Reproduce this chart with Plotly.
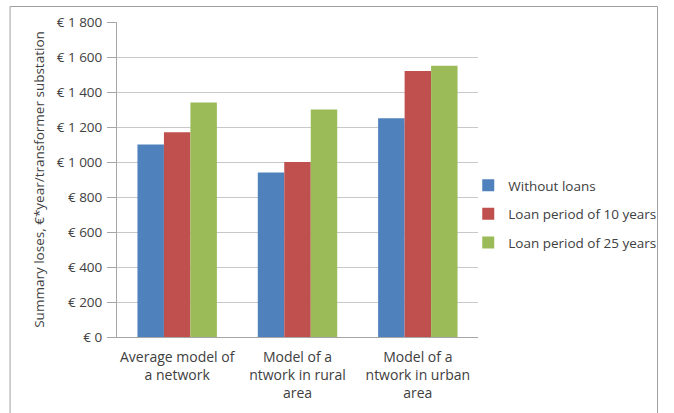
import plotly.graph_objects as go

# Category labels (multi-line) and series values, €/year per transformer substation
categories = [
    "Average model of<br>a network",
    "Model of a<br>ntwork in rural<br>area",
    "Model of a<br>ntwork in urban<br>area",
]
without_loans = [1100, 940, 1250]
loan_10_years = [1170, 1000, 1520]
loan_25_years = [1340, 1300, 1550]

series_names = ["Without loans", "Loan period of 10 years", "Loan period of 25 years"]
series_colors = ["#4F81BD", "#C0504D", "#9BBB59"]

tick_values = [0, 200, 400, 600, 800, 1000, 1200, 1400, 1600, 1800]
tick_labels = ["€ 0", "€ 200", "€ 400", "€ 600", "€ 800",
               "€ 1 000", "€ 1 200", "€ 1 400", "€ 1 600", "€ 1 800"]

FONT = "Open Sans, Liberation Sans, Arial, sans-serif"
TEXT = "#404040"

fig = go.Figure()
for i, (name, vals, col) in enumerate(zip(series_names,
                                          [without_loans, loan_10_years, loan_25_years],
                                          series_colors)):
    fig.add_trace(go.Bar(
        x=categories, y=vals, name=name, legendgroup=f"g{i}",
        marker=dict(color=col, line=dict(width=0)),
    ))

# Plot-area geometry in pixels
W, H = 674, 413
L, R, T, B = 117, 485, 22, 337
pw, ph = R - L, B - T

def px_x(x):
    return (x - L) / pw

def px_y(y):
    return (B - y) / ph

fig.update_layout(
    width=W, height=H,
    margin=dict(l=L, r=W - R, t=T, b=H - B, pad=0),
    paper_bgcolor="white", plot_bgcolor="white",
    barmode="group", bargap=0.34, bargroupgap=0,
    font=dict(family=FONT, size=13, color=TEXT),
    showlegend=True,
    legend=dict(x=0.973, y=px_y(170), xanchor="left", yanchor="top",
                font=dict(family=FONT, size=13.5, color=TEXT),
                tracegroupgap=8, bgcolor="rgba(0,0,0,0)"),
    xaxis=dict(
        showline=True, linecolor="#A6A6A6", linewidth=1,
        ticks="", tickfont=dict(family=FONT, size=14, color=TEXT),
        ticklabelstandoff=7,
        showgrid=False, fixedrange=True,
    ),
    yaxis=dict(
        range=[0, 1800], tickvals=tick_values, ticktext=tick_labels,
        showline=True, linecolor="#A6A6A6", linewidth=1,
        ticks="outside", ticklen=9, tickcolor="#A6A6A6",
        ticklabelstandoff=2,
        showgrid=True, gridcolor="#C8C8C8", gridwidth=1,
        zeroline=False,
        tickfont=dict(family=FONT, size=13.5, color=TEXT),
        title=dict(text="Summary loses, €*year/transformer substation",
                   font=dict(family=FONT, size=13.5, color=TEXT), standoff=8),
        fixedrange=True,
    ),
    shapes=[
        dict(type="rect", xref="paper", yref="paper",
             x0=px_x(8), x1=px_x(668), y0=px_y(425), y1=px_y(6.5),
             line=dict(color="#A0A0A0", width=1), fillcolor="rgba(0,0,0,0)",
             layer="below"),
    ],
)

fig.write_html("out.html")
